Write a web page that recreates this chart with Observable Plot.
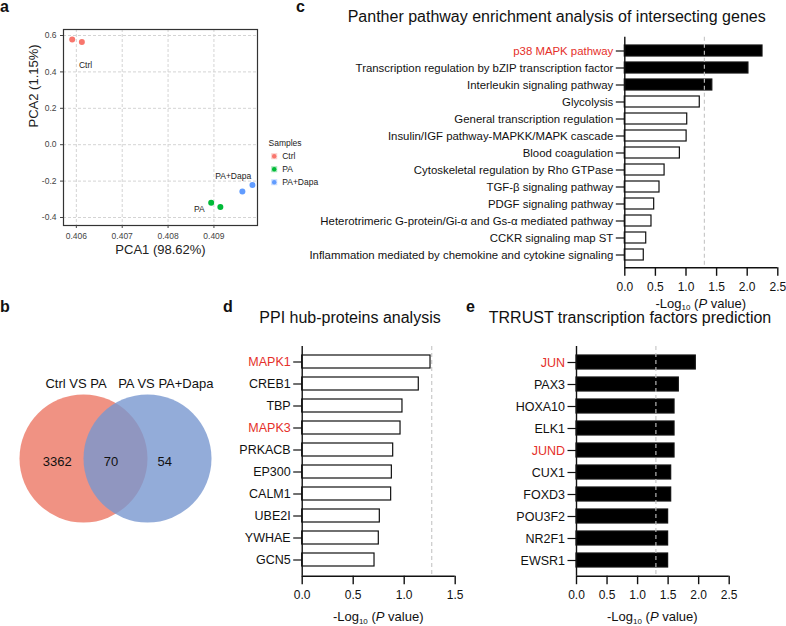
<!DOCTYPE html>
<html><head><meta charset="utf-8">
<script src="https://cdn.jsdelivr.net/npm/d3@7"></script>
<script src="https://cdn.jsdelivr.net/npm/@observablehq/plot@0.6"></script>
<style>
body{margin:0;background:#fff;}
#fig{position:relative;width:786px;height:626px;overflow:hidden;background:#fff;font-family:"Liberation Sans",Arial,sans-serif;}
</style></head><body><div id="fig"></div>
<script>
// ---------- Panel a: PCA ----------
const samples = ["Ctrl", "PA", "PA+Dapa"];
const sampleColors = ["#F8766D", "#00BA38", "#619CFF"];
const pcaGroup = ["Ctrl", "Ctrl", "PA", "PA", "PA+Dapa", "PA+Dapa"];
const pca1 = [0.40591, 0.40612, 0.40894, 0.40914, 0.40962, 0.40984];
const pca2 = [0.578, 0.565, -0.319, -0.343, -0.257, -0.222];
const pcaLabelText = ["Ctrl", "PA", "PA+Dapa"];
const pcaLabelX = [0.40620, 0.40868, 0.40942];
const pcaLabelY = [0.439, -0.356, -0.175];
const pcaXTicks = [0.406, 0.407, 0.408, 0.409];
const pcaYTicks = [-0.4, -0.2, 0.0, 0.2, 0.4, 0.6];

// ---------- Panel b: Venn ----------
const vennSets = ["Ctrl VS PA", "PA VS PA+Dapa"];
const vennCounts = [3362, 70, 54]; // only first, both, only second

// ---------- Panel c: Panther ----------
const pantherTerms = [
  "p38 MAPK pathway",
  "Transcription regulation by bZIP transcription factor",
  "Interleukin signaling pathway",
  "Glycolysis",
  "General transcription regulation",
  "Insulin/IGF pathway-MAPKK/MAPK cascade",
  "Blood coagulation",
  "Cytoskeletal regulation by Rho GTPase",
  "TGF-β signaling pathway",
  "PDGF signaling pathway",
  "Heterotrimeric G-protein/Gi-α and Gs-α mediated pathway",
  "CCKR signaling map ST",
  "Inflammation mediated by chemokine and cytokine signaling"
];
const pantherValues = [2.25, 2.02, 1.43, 1.225, 1.02, 1.01, 0.90, 0.65, 0.567, 0.48, 0.436, 0.35, 0.31];
const pantherRed = ["p38 MAPK pathway"];
const pantherTicks = [0, 0.5, 1.0, 1.5, 2.0, 2.5];
const pantherCut = 1.3;

// ---------- Panel d: PPI hub proteins ----------
const ppiGenes = ["MAPK1", "CREB1", "TBP", "MAPK3", "PRKACB", "EP300", "CALM1", "UBE2I", "YWHAE", "GCN5"];
const ppiValues = [1.258, 1.143, 0.983, 0.964, 0.892, 0.879, 0.872, 0.761, 0.751, 0.709];
const ppiRed = ["MAPK1", "MAPK3"];
const ppiTicks = [0, 0.5, 1.0, 1.5];
const ppiCut = 1.27;

// ---------- Panel e: TRRUST ----------
const tfGenes = ["JUN", "PAX3", "HOXA10", "ELK1", "JUND", "CUX1", "FOXD3", "POU3F2", "NR2F1", "EWSR1"];
const tfValues = [1.953, 1.675, 1.605, 1.605, 1.605, 1.55, 1.55, 1.50, 1.50, 1.50];
const tfRed = ["JUN", "JUND"];
const tfTicks = [0, 0.5, 1.0, 1.5, 2.0, 2.5];
const tfCut = 1.3;

const FONT = '"Liberation Sans", Arial, sans-serif';
const RED = "#e5302a";
const fig = document.getElementById("fig");
function place(el, left, top) {
  el.style.position = "absolute";
  el.style.left = left + "px";
  el.style.top = top + "px";
  el.style.maxWidth = "none";
  el.style.background = "transparent";
  el.style.overflow = "visible";
  fig.appendChild(el);
}
const baseStyle = {fontFamily: FONT, background: "transparent", overflow: "visible", maxWidth: "none"};

// ----- a -----
const pcaData = pca1.map((x, i) => ({x, y: pca2[i], g: pcaGroup[i]}));
const pcaLabels = pcaLabelText.map((t, i) => ({t, x: pcaLabelX[i], y: pcaLabelY[i]}));
const legendMarks = [Plot.text(["Samples"], {frameAnchor: "right", dx: 11, dy: 16, text: d => d, textAnchor: "start", fontSize: 8.5, fill: "#222"})];
samples.forEach((s, i) => {
  legendMarks.push(Plot.dot([s], {frameAnchor: "right", dx: 16.7, dy: 28.7 + 13 * i, symbol: "square", r: 3.4, fill: d => d, fillOpacity: 0.35}));
  legendMarks.push(Plot.dot([s], {frameAnchor: "right", dx: 16.7, dy: 28.7 + 13 * i, r: 2.2, fill: d => d}));
  legendMarks.push(Plot.text([s], {frameAnchor: "right", dx: 24.7, dy: 28.7 + 13 * i, text: d => d, textAnchor: "start", fontSize: 8.5, fill: "#222"}));
});
const plotA = Plot.plot({
  width: 330, height: 280, marginLeft: 63, marginRight: 73, marginTop: 29, marginBottom: 55,
  style: baseStyle,
  x: {domain: [0.40572, 0.40995], label: null},
  y: {domain: [-0.444, 0.633], label: null},
  color: {domain: samples, range: sampleColors},
  marks: [
    Plot.gridX({ticks: pcaXTicks, stroke: "#d4d4d4", strokeOpacity: 1, strokeDasharray: "3,2"}),
    Plot.gridY({ticks: pcaYTicks, stroke: "#d4d4d4", strokeOpacity: 1, strokeDasharray: "3,2"}),
    Plot.frame({stroke: "#333", strokeWidth: 1.2}),
    Plot.axisX({ticks: pcaXTicks, tickFormat: d => d.toFixed(3), tickSize: 3, tickPadding: 4, fontSize: 8.5, color: "#444", label: null}),
    Plot.axisY({ticks: pcaYTicks, tickFormat: d => d.toFixed(1), tickSize: 3, tickPadding: 4, fontSize: 8.5, color: "#444", label: null}),
    Plot.dot(pcaData, {x: "x", y: "y", fill: "g", r: 3}),
    Plot.text(pcaLabels, {x: "x", y: "y", text: "t", fontSize: 8.5, fill: "#222"}),
    Plot.text(["PCA1 (98.62%)"], {frameAnchor: "bottom", dy: 28, text: d => d, fontSize: 13, fill: "#222"}),
    Plot.text(["PCA2 (1.15%)"], {frameAnchor: "left", dx: -30, rotate: -90, text: d => d, fontSize: 13, fill: "#222"}),
    ...legendMarks
  ]
});
place(plotA, 0, 0);

// ----- b -----
const vennCircles = vennSets.map((s, i) => ({s, pos: i}));
const vennCountPos = [-0.41, 0.43, 1.27];
const vennCountData = vennCounts.map((c, i) => ({c, pos: vennCountPos[i]}));
const vennLabelPos = [-0.117, 1.286];
const vennLabelData = vennSets.map((s, i) => ({s, pos: vennLabelPos[i]}));
const plotB = Plot.plot({
  width: 225, height: 300, margin: 0,
  style: baseStyle,
  x: {domain: [0, 1], range: [83, 147], axis: null},
  y: {domain: [-1, 1], range: [242, 114], axis: null},
  marks: [
    Plot.dot(vennCircles.slice(0, 1), {x: "pos", y: () => 0, r: 64, fill: "#F09283", stroke: null}),
    Plot.dot(vennCircles.slice(1), {x: "pos", y: () => 0, r: 64, fill: "#7897D0", fillOpacity: 0.8, stroke: null}),
    Plot.text(vennCountData, {x: "pos", y: () => -0.058, text: d => String(d.c), fontSize: 13, fill: "#111"}),
    Plot.text(vennLabelData, {x: "pos", y: () => 1.17, text: "s", fontSize: 13, fill: "#111"})
  ]
});
place(plotB, 0, 280);

// ----- bar panels -----
function barPanel(cfg) {
  const data = cfg.names.map((n, i) => ({n, v: cfg.values[i]}));
  return Plot.plot({
    width: cfg.width, height: cfg.height,
    marginLeft: cfg.ml, marginRight: cfg.mr, marginTop: cfg.mt, marginBottom: cfg.mb,
    style: baseStyle,
    x: {domain: [0, cfg.ticks[cfg.ticks.length - 1]], label: null},
    y: {domain: cfg.names, paddingInner: cfg.pi, paddingOuter: cfg.po, label: null},
    marks: [
      Plot.barX(data, {x: "v", y: "n", fill: d => d.v > cfg.cut ? "#000" : "#fff", stroke: "#111", strokeWidth: 1.2}),
      Plot.ruleX([cfg.cut], {stroke: "#c4c4c4", strokeWidth: 1.1, strokeDasharray: "4,3"}),
      Plot.ruleX([0], {stroke: "#111", strokeWidth: 1.4}),
      Plot.ruleY([0], {y: null, x1: 0, x2: cfg.ticks[cfg.ticks.length - 1], dy: (cfg.height - cfg.mt - cfg.mb) / 2, stroke: "#111", strokeWidth: 1.4}),
      Plot.axisX({ticks: cfg.ticks, tickFormat: d => d.toFixed(1), tickSize: 8.5, tickPadding: 6, fontSize: 12, color: "#111", strokeWidth: 1.4, label: null}),
      Plot.axisY({tickSize: 8.5, tickPadding: 3, fontSize: cfg.fs, stroke: "#111", strokeWidth: 1.2, fill: d => cfg.red.includes(d) ? RED : "#111", label: null})
    ]
  });
}
const plotC = barPanel({names: pantherTerms, values: pantherValues, red: pantherRed, ticks: pantherTicks, cut: pantherCut,
  width: 486, height: 310, ml: 324.3, mr: 8.7, mt: 36.7, mb: 42.7, pi: 0.36, po: 0.43, fs: 11.4});
place(plotC, 300, 0);
const plotD = barPanel({names: ppiGenes, values: ppiValues, red: ppiRed, ticks: ppiTicks, cut: ppiCut,
  width: 250, height: 290, ml: 81.7, mr: 15.3, mt: 16, mb: 44.3, pi: 0.39, po: 0.37, fs: 12.5});
place(plotD, 220, 330);
const plotE = barPanel({names: tfGenes, values: tfValues, red: tfRed, ticks: tfTicks, cut: tfCut,
  width: 316, height: 290, ml: 106, mr: 57.3, mt: 16, mb: 44.3, pi: 0.37, po: 0.37, fs: 12.5});
place(plotE, 470, 330);

// ----- overlay text: panel letters, titles, axis titles -----
const svg = d3.create("svg").attr("width", 786).attr("height", 626)
  .style("position", "absolute").style("left", "0px").style("top", "0px")
  .style("font-family", FONT).style("pointer-events", "none").style("overflow", "visible");
const letters = [["a", 0, 11.5], ["b", 0, 311.5], ["c", 296, 12], ["d", 223, 311.5], ["e", 466, 311.5]];
letters.forEach(([t, x, y]) => svg.append("text").attr("x", x).attr("y", y).attr("font-size", 16).attr("font-weight", "bold").attr("fill", "#111").text(t));
const titles = [["Panther pathway enrichment analysis of intersecting genes", 556.7, 21.7],
  ["PPI hub-proteins analysis", 350, 323], ["TRRUST transcription factors prediction", 630, 323]];
titles.forEach(([t, x, y]) => svg.append("text").attr("x", x).attr("y", y).attr("text-anchor", "middle").attr("font-size", 16).attr("fill", "#111").text(t));
const xlabels = [[700.8, 307.5], [378.2, 621], [652.3, 621]];
xlabels.forEach(([x, y]) => {
  const t = svg.append("text").attr("x", x).attr("y", y).attr("text-anchor", "middle").attr("font-size", 13).attr("fill", "#111");
  t.append("tspan").text("-Log");
  t.append("tspan").attr("font-size", 8).attr("dy", 2.5).text("10");
  t.append("tspan").attr("dy", -2.5).text(" (");
  t.append("tspan").attr("font-style", "italic").text("P");
  t.append("tspan").text(" value)");
});
fig.appendChild(svg.node());
</script></body></html>
